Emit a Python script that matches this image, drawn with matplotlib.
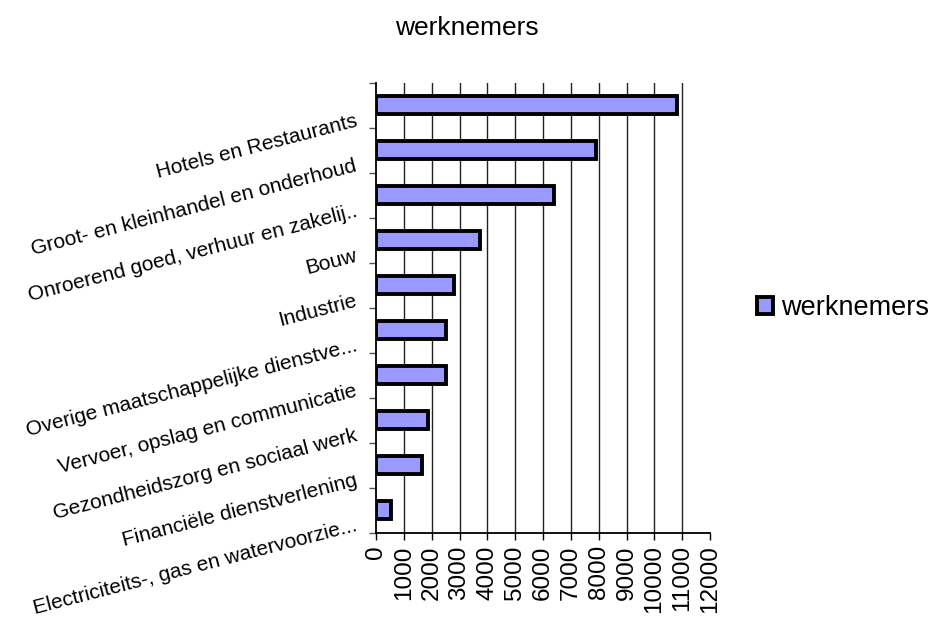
import matplotlib.pyplot as plt
import matplotlib.transforms as mtransforms
import numpy as np

plt.rcParams['font.family'] = ['Liberation Sans', 'DejaVu Sans']

# Data (top to bottom as in the chart)
sectoren = [
    "Hotels en Restaurants",
    "Groot- en kleinhandel en onderhoud",
    "Onroerend goed, verhuur en zakelij..",
    "Bouw",
    "Industrie",
    "Overige maatschappelijke dienstve...",
    "Vervoer, opslag en communicatie",
    "Gezondheidszorg en sociaal werk",
    "Financiële dienstverlening",
    "Electriciteits-, gas en watervoorzie...",
]
werknemers = [10800, 7900, 6400, 3740, 2810, 2520, 2510, 1880, 1640, 530]
x_ticks = list(range(0, 12001, 1000))

fig = plt.figure(figsize=(9.33, 6.18), dpi=100)
ax = fig.add_axes([376 / 933, 1 - 532.7 / 618, (710 - 376) / 933, (532.7 - 83) / 618])

y = np.arange(len(sectoren))
bars = ax.barh(y, werknemers, height=0.4, color='#9999FF', edgecolor='black',
               linewidth=2.8, label='werknemers', zorder=3)

ax.set_xlim(0, 12000)
ax.set_ylim(len(sectoren) - 0.5, -0.5)

# vertical gridlines 1000..11000
for v in x_ticks[1:-1]:
    ax.axvline(v, color='#222222', linewidth=1.0, zorder=1)

ax.spines['top'].set_visible(False)
ax.spines['right'].set_visible(False)
ax.spines['left'].set_linewidth(1.3)
ax.spines['bottom'].set_linewidth(1.3)

ax.set_xticks(x_ticks)
ax.set_xticklabels([str(v) for v in x_ticks], rotation=90, fontsize=17.5)
ax.tick_params(axis='x', direction='out', length=5, width=1, pad=4)

# category boundaries as tick marks, labels at centers
ax.set_yticks(np.arange(-0.5, len(sectoren), 1), minor=True)
ax.tick_params(axis='y', which='minor', direction='out', length=5, width=1, color='#555555')
ax.set_yticks(y)
ax.set_yticklabels(sectoren, fontsize=15)
ax.tick_params(axis='y', which='major', length=0, pad=14)
offset = mtransforms.ScaledTranslation(0, -15 / 100, fig.dpi_scale_trans)
for lbl in ax.get_yticklabels():
    lbl.set_rotation(14.5)
    lbl.set_rotation_mode('anchor')
    lbl.set_ha('right')
    lbl.set_va('center')
    lbl.set_transform(lbl.get_transform() + offset)

fig.text(467 / 933, 1 - 28 / 618, 'werknemers', ha='center', va='center', fontsize=19)

fig.legend(handles=[bars], loc='center left', bbox_to_anchor=(757 / 933, 1 - 308 / 618),
           frameon=False, fontsize=19.5, handlelength=0.6, handleheight=0.6,
           handletextpad=0.3, borderpad=0, borderaxespad=0)

fig.savefig('out.png', dpi=100)
